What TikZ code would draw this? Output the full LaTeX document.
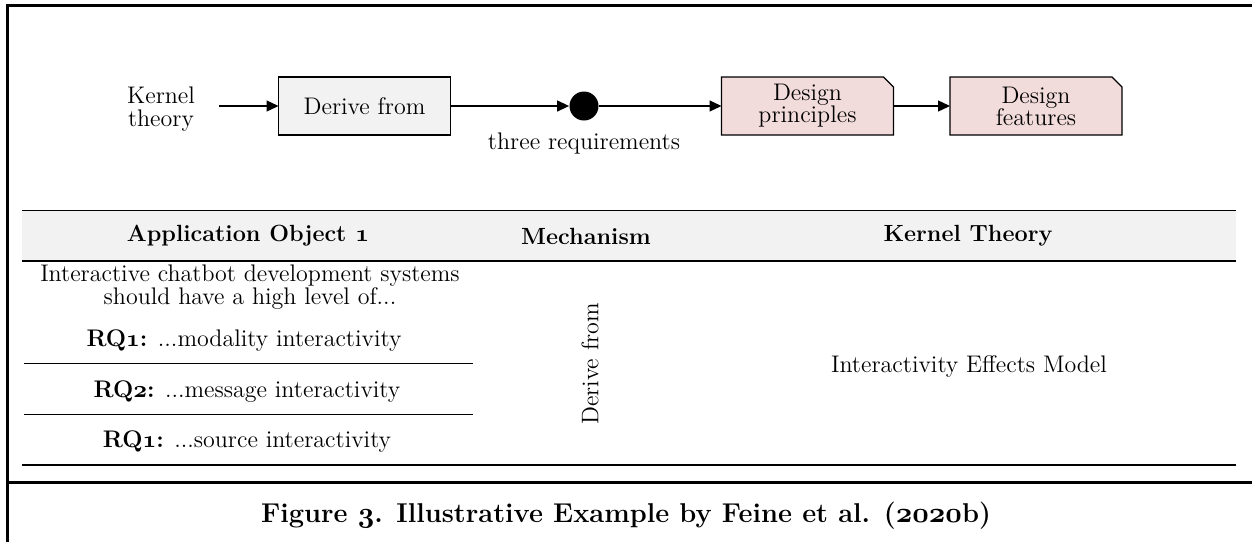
\documentclass[tikz,border=0pt]{standalone}
\usetikzlibrary{arrows.meta,positioning}
\definecolor{boxgray}{HTML}{F2F2F2}
\definecolor{boxpink}{HTML}{F2DCDB}
\definecolor{headgray}{HTML}{F2F2F2}
\newcommand{\osb}[1]{{\usefont{OML}{cmm}{b}{it}#1}}
\pgfdeclarelayer{bglayer}
\pgfsetlayers{bglayer,main}
\begin{document}
\begin{tikzpicture}[x=0.5pt,y=-0.5pt,
  txt/.style={font=\fontsize{12}{11.5}\selectfont, align=center, inner sep=0pt},
  hdr/.style={font=\fontsize{11.7}{12}\selectfont\bfseries, inner sep=0pt},
  flowbox/.style={draw, line width=0.65pt, minimum width=86pt, minimum height=29pt,
    inner sep=1pt, outer sep=0pt, align=center, font=\fontsize{12}{11}\selectfont},
  snipbox/.style={flowbox, draw=none},
  snipline/.style={draw, line width=0.65pt, fill=boxpink, line join=miter},
  conn/.style={line width=0.65pt, -{Triangle[length=6pt,width=5.5pt]}},
  frameline/.style={line width=1.3pt},
  tabrule/.style={line width=0.8pt},
  rowrule/.style={line width=0.6pt}]
\useasboundingbox (0,0) rectangle (1252,542);
% frame
\draw[frameline] (1252,5.5) -- (7.5,5.5) -- (7.5,542);
\draw[frameline] (7.5,482.5) -- (1252,482.5);
% flow
\node[txt] (kt) at (161,109) {Kernel\\theory};
\node[flowbox, fill=boxgray] (der) at (364.5,106) {Derive from};
\node[circle, fill=black, minimum size=14.5pt, inner sep=0pt] (dot) at (584,106) {};
\node[txt, anchor=north] (req) at ([yshift=-6pt]dot.south) {three requirements};
\node[snipbox] (dp) at (807.5,106) {Design\\principles};
\node[snipbox] (dfe) at (1036,106) {Design\\features};
\begin{pgfonlayer}{bglayer}
\path[snipline] (dp.south west) -- (dp.north west) -- ([xshift=-5pt]dp.north east)
  -- ([yshift=-5pt]dp.north east) -- (dp.south east) -- cycle;
\path[snipline] (dfe.south west) -- (dfe.north west) -- ([xshift=-5pt]dfe.north east)
  -- ([yshift=-5pt]dfe.north east) -- (dfe.south east) -- cycle;
\end{pgfonlayer}
\draw[conn, shorten <=12pt] (kt.east |- der.west) -- (der.west);
\draw[conn] (der) -- (dot);
\draw[conn] (dot) -- (dp);
\draw[conn] (dp) -- (dfe);
% table
\fill[headgray] (22,210.5) rectangle (1236,261);
\draw[tabrule] (22,210.5) -- (1236,210.5);
\draw[tabrule] (22,261) -- (1236,261);
\draw[tabrule] (22,465) -- (1236,465);
\draw[rowrule] (24,363.5) -- (473,363.5);
\draw[rowrule] (24,414.5) -- (473,414.5);
\node[hdr] (h1) at (248,236) {Application Object \osb{1}};
\node[hdr] (h2) at (586,236) {Mechanism};
\node[hdr] (h3) at (968,236) {Kernel Theory};
\node[txt] (intro) at (250,287) {Interactive chatbot development systems\\should have a high level of...};
\node[txt] (r1) at (244,341) {\textbf{RQ\osb{1}:} ...modality interactivity};
\node[txt] (r2) at (247,392) {\textbf{RQ\osb{2}:} ...message interactivity};
\node[txt] (r3) at (247,442) {\textbf{RQ\osb{1}:} ...source interactivity};
\node[txt, rotate=90] (mech) at (590,364) {Derive from};
\node[txt] (iem) at (969,366) {Interactivity Effects Model};
\node[font=\fontsize{13.6}{13.6}\selectfont\bfseries, inner sep=0pt] (cap) at (626,516)
  {Figure \osb{3}. Illustrative Example by Feine et al. (\osb{2020}b)};
\end{tikzpicture}
\end{document}
